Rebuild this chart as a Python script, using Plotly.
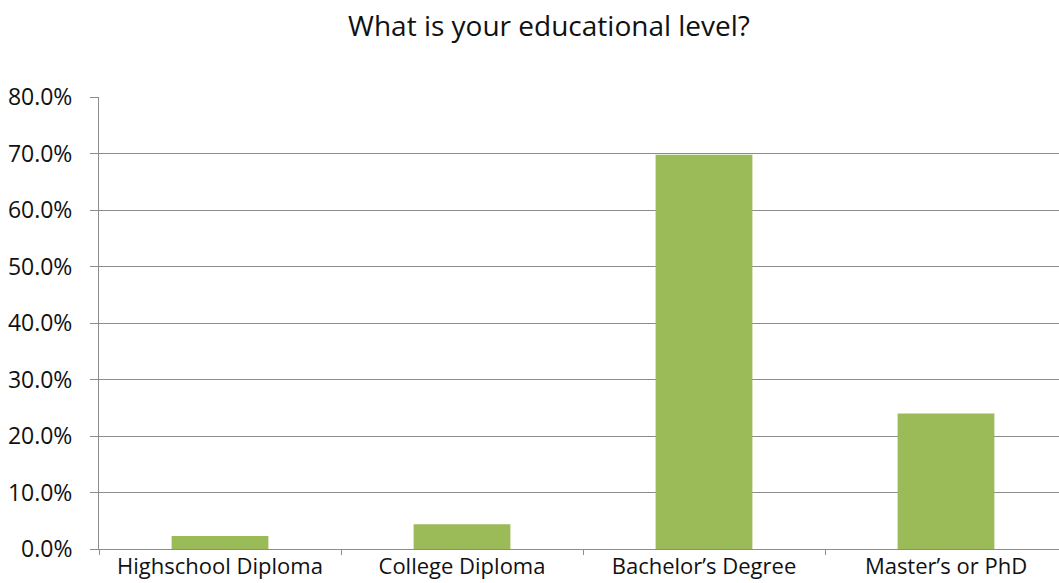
import plotly.graph_objects as go

categories = ["Highschool Diploma", "College Diploma", "Bachelor’s Degree", "Master’s or PhD"]
values = [2.3, 4.4, 69.8, 24.0]
y_ticks = [0, 10, 20, 30, 40, 50, 60, 70, 80]

W, H = 1059, 583
font_family = "'Open Sans', sans-serif"

fig = go.Figure(go.Bar(
    x=categories, y=values,
    marker=dict(color="#9BBB59", line=dict(width=0)),
    width=0.4,
))

fig.update_layout(
    width=W, height=H,
    margin=dict(l=99, r=0, t=97, b=34, autoexpand=False),
    paper_bgcolor="white", plot_bgcolor="white",
    showlegend=False,
    font=dict(family=font_family, color="#222222"),
    title=dict(text="What is your educational level?", x=549 / W, xref="container",
               xanchor="center", y=1 - 26 / H, yref="container", yanchor="middle",
               font=dict(size=28, color="#111111", family=font_family)),
)
fig.update_xaxes(
    type="category",
    range=[-0.5, 3.5 - 8 / 242],
    automargin=False,
    showline=True, linecolor="#8c8c8c", linewidth=1,
    ticks="outside", tickson="boundaries", ticklen=5, tickcolor="#8c8c8c",
    ticklabelstandoff=-2,
    tickfont=dict(size=22, color="#111111"),
    showgrid=False,
)
fig.update_yaxes(
    range=[0, 80],
    automargin=False,
    tickvals=y_ticks,
    ticktext=[f"{v:.1f}%" for v in y_ticks],
    showline=True, linecolor="#8c8c8c", linewidth=1,
    ticks="outside", ticklen=8, tickcolor="#8c8c8c",
    ticklabelstandoff=13,
    showgrid=True, gridcolor="#8c8c8c", gridwidth=1,
    zeroline=False,
    tickfont=dict(size=23, color="#111111"),
)

fig.write_html("out.html")
